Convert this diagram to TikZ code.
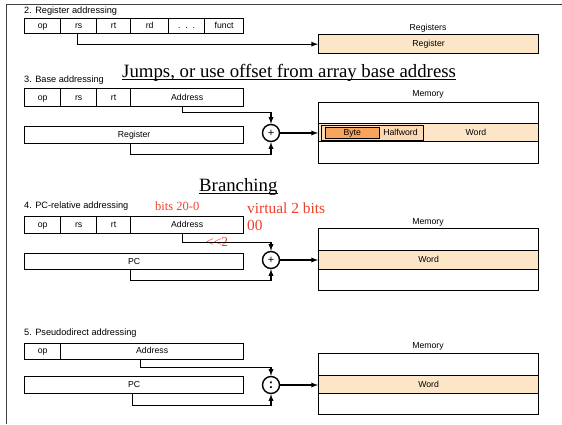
\documentclass[tikz,border=0pt]{standalone}
\usepackage{fontspec}
\setmainfont{Liberation Sans}
\newfontfamily\timesfont{Liberation Serif}
\definecolor{memorange}{RGB}{253,230,200}
\definecolor{byteorange}{RGB}{247,165,92}
\definecolor{notered}{RGB}{240,62,40}
\tikzset{
  fld/.style={draw, line width=1.3pt, anchor=north west, inner sep=0pt, text height=6.3pt, text depth=1.6pt, font=\fontsize{8.7}{10}\selectfont},
  memrow/.style={fld, minimum width=220pt},
  conn/.style={line width=1.3pt},
  adder/.style={circle, draw, line width=1.4pt, minimum size=17pt, inner sep=0pt, fill=white},
  ttl/.style={anchor=west, inner sep=0pt, font=\fontsize{9.2}{10}\selectfont},
  lbl/.style={inner sep=0pt, font=\fontsize{8.7}{10}\selectfont},
  big/.style={anchor=base west, inner sep=0pt, font=\timesfont\fontsize{18.8}{20}\selectfont},
  note/.style={anchor=west, inner sep=0pt, text=notered, font=\timesfont\fontsize{15.4}{16}\selectfont},
}
\begin{document}
\begin{tikzpicture}[>=latex, x=1pt, y=-1pt]
    \useasboundingbox (0,0) rectangle (562,424);
    \draw[line width=0.8pt, black!75] (6,424) -- (6,4.5) -- (562,4.5);
    % 2. register addressing
    \node[ttl] (t2) at (24,11) {2. Register addressing};
    \node[fld, minimum width=36pt, minimum height=15pt] (op2) at (24,18) {op};
    \node[fld, minimum width=36pt, minimum height=15pt] (rs2) at (60,18) {rs};
    \node[fld, minimum width=34pt, minimum height=15pt] (rt2) at (96,18) {rt};
    \node[fld, minimum width=38pt, minimum height=15pt] (rd2) at (130,18) {rd};
    \node[fld, minimum width=36pt, minimum height=15pt] (dots2) at (168,18) {.\ \ .\ \ .};
    \node[fld, minimum width=39pt, minimum height=15pt] (funct2) at (204,18) {funct};
    \node[lbl] (regs2) at (428,28) {Registers};
    \node[memrow, minimum height=19pt, fill=memorange] (reg2) at (318,34) {Register};
    \draw[conn,->] ([xshift=-1pt]rs2.south) |- (reg2.west);
    % 3. base addressing
    \node[big] (jumps) at (122,77) {Jumps, or use offset from array base address};
    \draw[line width=0.9pt] ([yshift=-2.2pt]jumps.base west) -- ([yshift=-2.2pt]jumps.base east);
    \node[ttl] (t3) at (24,80) {3. Base addressing};
    \node[fld, minimum width=36pt, minimum height=18pt] (op3) at (24,88) {op};
    \node[fld, minimum width=36pt, minimum height=18pt] (rs3) at (60,88) {rs};
    \node[fld, minimum width=34pt, minimum height=18pt] (rt3) at (96,88) {rt};
    \node[fld, minimum width=113pt, minimum height=18pt] (addr3) at (130,88) {Address};
    \node[fld, minimum width=219pt, minimum height=17pt] (base3) at (24,126) {Register};
    \node[adder, font=\fontsize{11}{11}\selectfont] (plus3) at (271,133) {+};
    \node[lbl] (mem3) at (428,94) {Memory};
    \node[memrow, minimum height=21pt] (mem3a) at (318,102) {};
    \node[memrow, minimum height=18pt, fill=memorange] (mem3b) at (318,123) {};
    \node[memrow, minimum height=22pt] (mem3c) at (318,141) {};
    \node[fld, line width=1.4pt, minimum width=102pt, minimum height=15pt, fill=memorange!80!byteorange] (hw3) at (321,124.5) {};
    \node[fld, line width=1.4pt, minimum width=54pt, minimum height=11pt, fill=byteorange] (byte3) at (324.5,126.5) {Byte};
    \node[lbl] (hwlbl3) at (400.5,132) {Halfword};
    \node[lbl] (word3) at (476,132) {Word};
    \draw[conn,->] ([xshift=-5pt]addr3.south) -- ++(0,5) -| (plus3.north);
    \draw[conn,->] ([xshift=-3.5pt]base3.south) -- ++(0,10) -| (plus3.south);
    \draw[conn,->] (plus3.east) -- (plus3.east -| mem3b.west);
    % 4. pc-relative addressing
    \node[big] (branch) at (199,191) {Branching};
    \draw[line width=0.9pt] ([yshift=-2.2pt]branch.base west) -- ([yshift=-2.2pt]branch.base east);
    \node[ttl] (t4) at (24,206) {4. PC-relative addressing};
    \node[note, font=\timesfont\fontsize{12.5}{13}\selectfont] (bits4) at (155,206) {bits 20-0};
    \node[note] (virt4) at (247,208) {virtual 2 bits};
    \node[note] (zero4) at (247,225) {00};
    \node[fld, minimum width=36pt, minimum height=17pt] (op4) at (24,216) {op};
    \node[fld, minimum width=36pt, minimum height=17pt] (rs4) at (60,216) {rs};
    \node[fld, minimum width=34pt, minimum height=17pt] (rt4) at (96,216) {rt};
    \node[fld, minimum width=113pt, minimum height=17pt] (addr4) at (130,216) {Address};
    \node[note, font=\timesfont\fontsize{13.5}{14}\selectfont] (shift4) at (206,242) {<{}<2};
    \node[fld, minimum width=219pt, minimum height=16pt] (pc4) at (24,253) {PC};
    \node[adder, font=\fontsize{11}{11}\selectfont] (plus4) at (271,260) {+};
    \node[lbl] (mem4) at (428,222) {Memory};
    \node[memrow, minimum height=22pt] (mem4a) at (318,228) {};
    \node[memrow, minimum height=19pt, fill=memorange] (mem4b) at (318,250) {Word};
    \node[memrow, minimum height=21pt] (mem4c) at (318,269) {};
    \draw[conn,->] ([xshift=-5pt]addr4.south) -- ++(0,8) -| (plus4.north);
    \draw[conn,->] ([xshift=-3.5pt]pc4.south) -- ++(0,10) -| (plus4.south);
    \draw[conn,->] (plus4.east) -- (plus4.east -| mem4b.west);
    % 5. pseudodirect addressing
    \node[ttl] (t5) at (24,333) {5. Pseudodirect addressing};
    \node[fld, minimum width=36pt, minimum height=15.5pt] (op5) at (24,343) {op};
    \node[fld, minimum width=183pt, minimum height=15.5pt] (addr5) at (60,343) {Address};
    \node[fld, minimum width=219pt, minimum height=17pt] (pc5) at (24,376) {PC};
    \node[adder, font=\bfseries\fontsize{13}{13}\selectfont] (cat5) at (271,385) {:};
    \node[lbl] (mem5) at (428,346) {Memory};
    \node[memrow, minimum height=22pt] (mem5a) at (318,353) {};
    \node[memrow, minimum height=18pt, fill=memorange] (mem5b) at (318,375) {Word};
    \node[memrow, minimum height=21pt] (mem5c) at (318,393) {};
    \draw[conn,->] ([xshift=-11.5pt]addr5.south) -- ++(0,8) -| (cat5.north);
    \draw[conn,->] ([xshift=-1.5pt]pc5.south) -- ++(0,11) -| (cat5.south);
    \draw[conn,->] (cat5.east) -- (cat5.east -| mem5b.west);
\end{tikzpicture}
\end{document}
